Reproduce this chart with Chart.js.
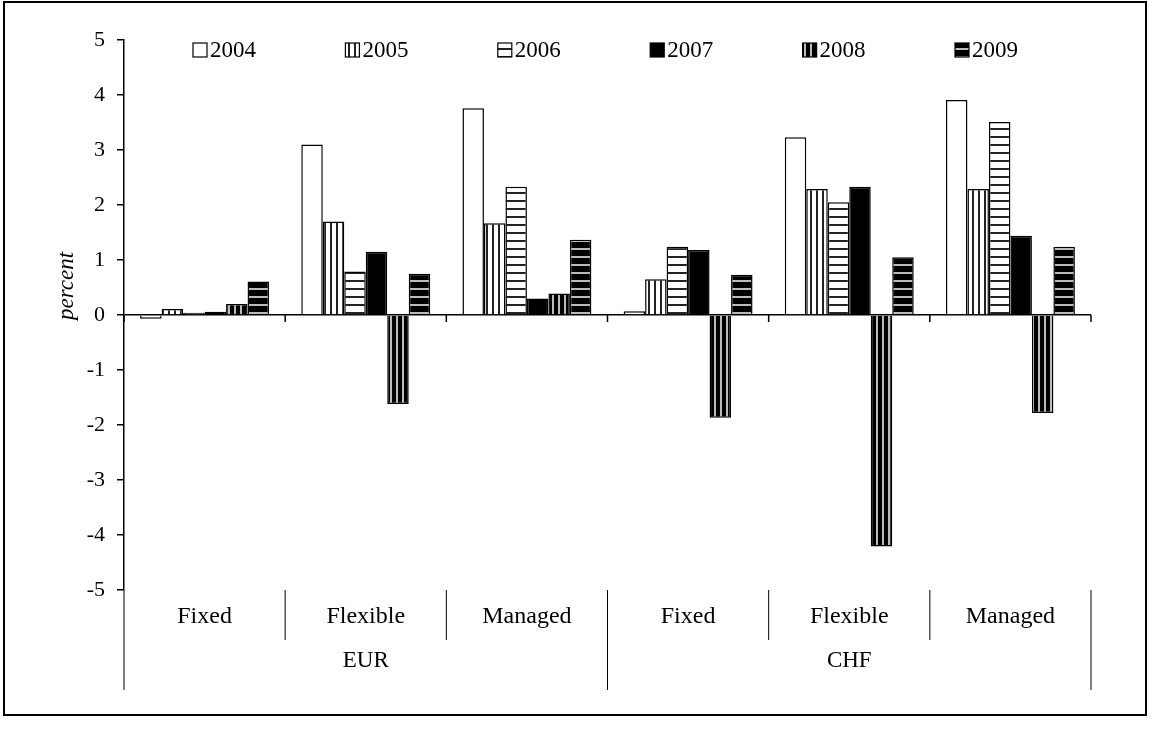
<!DOCTYPE html>
<html>
<head>
<meta charset="utf-8">
<style>
  body { margin: 0; background: #fff; }
  #wrap { width: 1157px; height: 735px; position: relative; }
</style>
<script src="https://cdn.jsdelivr.net/npm/chart.js"></script>
</head>
<body>
<div id="wrap"><canvas id="chart"></canvas></div>
<script>
  // categories (inner) and their currency groups
  const categories = ['Fixed', 'Flexible', 'Managed', 'Fixed', 'Flexible', 'Managed'];
  const groups = ['EUR', 'CHF'];
  const years = ['2004', '2005', '2006', '2007', '2008', '2009'];

  // values per year, in category order
  const v2004 = [-0.07, 3.10, 3.76, 0.07, 3.23, 3.91];
  const v2005 = [0.11, 1.70, 1.67, 0.65, 2.29, 2.29];
  const v2006 = [0.04, 0.79, 2.33, 1.24, 2.05, 3.51];
  const v2007 = [0.06, 1.15, 0.30, 1.18, 2.33, 1.44];
  const v2008 = [0.20, -1.62, 0.39, -1.87, -4.21, -1.78];
  const v2009 = [0.61, 0.75, 1.37, 0.73, 1.05, 1.24];

  const yTicks = [-5, -4, -3, -2, -1, 0, 1, 2, 3, 4, 5];

  const FONT = '"Liberation Serif", "Times New Roman", serif';

  // stripe patterns like the old excel fills
  function stripes(bg, fg, dir, gap, w) {
    const c = document.createElement('canvas');
    c.width = gap; c.height = gap;
    const g = c.getContext('2d');
    g.fillStyle = bg;
    g.fillRect(0, 0, gap, gap);
    g.fillStyle = fg;
    if (dir === 'v') g.fillRect(0, 0, w, gap);
    else g.fillRect(0, 0, gap, w);
    return g.createPattern(c, 'repeat');
  }

  const fills = [
    '#ffffff',
    stripes('#ffffff', '#222222', 'v', 6, 2),
    stripes('#ffffff', '#222222', 'h', 8, 2),
    '#000000',
    stripes('#000000', '#bbbbbb', 'v', 6, 2),
    stripes('#000000', '#bbbbbb', 'h', 8, 2)
  ];
  const series = [v2004, v2005, v2006, v2007, v2008, v2009];

  const extras = {
    id: 'extras',
    afterDraw(chart) {
      const ctx = chart.ctx;
      const a = chart.chartArea;
      const x = chart.scales.x;
      const y = chart.scales.y;
      const y0 = y.getPixelForValue(0);
      const step = x.getPixelForValue(1) - x.getPixelForValue(0);
      const bound = i => x.getPixelForValue(0) - step / 2 + i * step;
      const bottom = a.bottom + 100;

      ctx.save();
      ctx.strokeStyle = '#000';
      ctx.lineWidth = 1.5;

      // ticks on the zero line
      for (let i = 0; i <= categories.length; i++) {
        ctx.beginPath();
        ctx.moveTo(bound(i), y0);
        ctx.lineTo(bound(i), y0 + 7);
        ctx.stroke();
      }

      // dividers under the plot
      ctx.lineWidth = 1;
      for (let i = 0; i <= categories.length; i++) {
        const outer = i % 3 === 0;
        ctx.beginPath();
        ctx.moveTo(bound(i), a.bottom);
        ctx.lineTo(bound(i), outer ? bottom : a.bottom + 50);
        ctx.stroke();
      }

      // group labels
      ctx.fillStyle = '#000';
      ctx.font = '23px ' + FONT;
      ctx.textAlign = 'center';
      ctx.textBaseline = 'middle';
      groups.forEach((g, i) => {
        ctx.fillText(g, (bound(i * 3) + bound(i * 3 + 3)) / 2, a.bottom + 71);
      });

      // axis title
      ctx.save();
      ctx.translate(67, 286);
      ctx.rotate(-Math.PI / 2);
      ctx.font = 'italic 23px ' + FONT;
      ctx.fillText('percent', 0, 0);
      ctx.restore();

      // legend
      ctx.textAlign = 'left';
      ctx.font = '23px ' + FONT;
      years.forEach((yr, i) => {
        const bx = 193 + i * 152.4;
        const by = 43;
        ctx.fillStyle = fills[i];
        ctx.fillRect(bx, by, 14, 14);
        ctx.lineWidth = 1.2;
        ctx.strokeRect(bx, by, 14, 14);
        ctx.fillStyle = '#000';
        ctx.fillText(yr, bx + 17, by + 8);
      });

      // frame
      ctx.lineWidth = 2;
      ctx.strokeRect(4, 2, 1142, 713);
      ctx.restore();
    }
  };

  new Chart(document.getElementById('chart'), {
    type: 'bar',
    data: {
      labels: categories,
      datasets: years.map((yr, i) => ({
        label: yr,
        data: series[i],
        backgroundColor: fills[i],
        borderColor: '#000',
        borderWidth: 1.5,
        categoryPercentage: 0.8,
        barPercentage: 1.0
      }))
    },
    options: {
      responsive: true,
      maintainAspectRatio: false,
      animation: false,
      layout: { padding: { left: 0, top: 40, right: 66, bottom: 0 } },
      plugins: {
        legend: { display: false },
        tooltip: { enabled: false }
      },
      scales: {
        x: {
          grid: { display: false, drawTicks: false },
          border: { display: false },
          ticks: { color: '#000', font: { family: FONT, size: 24 }, padding: 12, maxRotation: 0 },
          afterFit: s => { s.height = 145; }
        },
        y: {
          min: -5,
          max: 5,
          afterBuildTicks: s => { s.ticks = yTicks.map(v => ({ value: v })); },
          grid: {
            color: c => (c.tick && c.tick.value === 0 ? '#000' : 'rgba(0,0,0,0)'),
            tickColor: '#000',
            tickLength: 7,
            lineWidth: 1.5
          },
          border: { display: true, color: '#000', width: 1.5 },
          ticks: { color: '#000', font: { family: FONT, size: 22 }, padding: 12 },
          afterFit: s => { s.width = 124; }
        }
      }
    },
    plugins: [extras]
  });
</script>
</body>
</html>
